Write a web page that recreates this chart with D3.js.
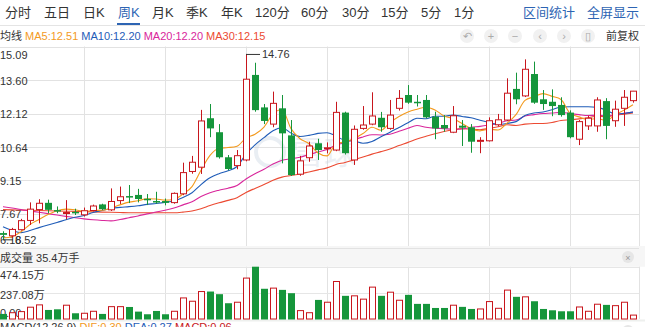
<!DOCTYPE html>
<html><head><meta charset="utf-8">
<script src="https://cdn.jsdelivr.net/npm/d3@7"></script>
<style>
body{margin:0;background:#fff;overflow:hidden}
svg{display:block;font-family:"Liberation Sans",Arial,"Noto Sans CJK SC",sans-serif}
</style></head><body>
<svg id="c" width="645" height="327"></svg>
<script>
const opens=[6.82,6.70,6.97,7.38,7.86,8.16,7.84,7.71,7.76,7.63,7.82,8.09,7.85,8.26,8.46,8.51,8.34,8.24,8.24,8.17,8.56,9.55,9.74,11.91,11.29,10.18,9.81,10.06,13.83,12.39,11.65,12.35,11.15,9.43,10.16,10.80,10.56,10.50,12.16,10.06,11.46,11.65,11.93,11.46,12.35,12.94,12.64,12.72,11.98,11.61,11.29,11.58,11.51,10.89,10.91,11.62,11.83,13.21,12.90,13.87,12.75,12.64,12.50,12.16,10.98,11.57,11.57,12.67,11.80,12.35,12.69];
const highs=[6.90,7.05,7.45,8.18,8.32,8.30,8.00,8.28,7.90,7.95,8.08,8.12,8.80,8.88,8.95,8.78,8.55,8.65,8.35,8.62,9.94,10.24,12.28,12.54,11.65,10.28,10.50,14.76,14.37,12.54,13.09,12.94,11.83,10.24,10.87,11.00,10.84,12.64,12.20,11.59,12.45,13.06,12.19,12.72,13.16,13.38,12.94,12.94,12.20,12.05,12.45,11.83,11.65,11.07,11.95,12.10,13.68,13.93,14.52,14.42,13.16,13.19,12.84,12.26,11.83,12.02,12.84,12.80,12.69,13.16,13.12];
const lows=[6.52,6.60,6.93,7.18,7.25,7.70,7.70,7.43,7.62,7.55,7.78,7.84,7.80,8.11,8.15,8.18,8.06,8.12,8.05,8.12,8.50,9.45,9.44,11.07,10.12,9.60,9.65,10.00,12.20,11.65,11.51,9.91,9.35,9.36,9.98,10.06,10.35,10.45,10.30,9.84,11.40,11.60,11.31,11.40,12.25,12.55,12.43,11.90,10.98,11.31,11.25,10.68,10.38,10.36,10.88,11.55,11.78,12.53,12.85,12.55,12.28,12.00,11.98,11.02,10.72,11.39,11.31,10.98,11.53,11.57,12.60];
const closes=[6.74,6.98,7.37,7.88,8.14,7.85,7.80,7.73,7.72,7.81,8.02,7.88,8.22,8.43,8.40,8.33,8.31,8.19,8.16,8.58,9.50,9.96,11.79,11.46,10.18,9.66,10.25,13.64,12.27,11.79,12.57,11.24,9.39,10.02,10.68,10.50,10.60,12.17,10.36,11.42,11.61,12.01,11.51,12.05,12.79,12.60,12.60,11.95,11.46,11.46,12.02,11.49,10.87,10.93,11.80,11.84,13.02,12.75,14.08,12.60,12.54,12.45,12.05,11.07,11.76,11.91,12.72,11.57,12.31,12.84,13.11];
const volumes=[46,57,67,107,128,82,88,125,52,52,70,46,112,112,109,67,43,73,43,70,191,161,249,249,225,143,152,371,474.15,274,280,264,234,76,57,173,152,340,210,210,180,289,210,243,170,219,137,137,100,100,125,110,91,91,158,97,262,201,201,161,91,79,70,70,109,70,134,128,121,152,35.4];
const ma5=[6.60,6.66,6.88,7.20,7.42,7.64,7.81,7.88,7.85,7.78,7.82,7.83,7.93,8.07,8.19,8.25,8.34,8.33,8.28,8.31,8.55,8.88,9.60,10.26,10.58,10.61,10.67,11.04,11.20,11.52,12.10,12.30,11.45,11.00,10.78,10.37,10.24,10.79,10.86,11.01,11.23,11.51,11.38,11.72,11.99,12.19,12.31,12.40,12.28,12.01,11.90,11.68,11.46,11.35,11.42,11.39,11.69,12.07,12.70,12.86,13.00,12.88,12.74,12.14,11.97,11.85,11.90,11.81,12.05,12.27,12.51];
const ma10=[7.10,6.94,6.84,6.93,7.06,7.18,7.29,7.41,7.52,7.60,7.73,7.82,7.91,7.96,7.99,8.03,8.09,8.13,8.18,8.25,8.40,8.61,8.97,9.27,9.45,9.58,9.77,10.32,10.73,11.05,11.36,11.49,11.25,11.10,11.15,11.24,11.27,11.12,10.93,10.90,10.80,10.88,11.09,11.29,11.50,11.71,11.91,11.89,12.00,12.00,12.05,11.99,11.93,11.82,11.72,11.64,11.68,11.76,12.03,12.14,12.19,12.29,12.41,12.42,12.42,12.42,12.39,12.28,12.10,12.12,12.18];
const ma20=[7.99,7.93,7.86,7.80,7.74,7.68,7.62,7.56,7.50,7.45,7.41,7.38,7.36,7.42,7.50,7.58,7.67,7.75,7.83,7.93,8.07,8.21,8.44,8.61,8.72,8.81,8.93,9.22,9.45,9.65,9.88,10.05,10.11,10.18,10.30,10.41,10.52,10.72,10.83,10.97,11.08,11.18,11.17,11.20,11.33,11.47,11.59,11.51,11.47,11.45,11.42,11.43,11.51,11.55,11.61,11.68,11.80,11.83,12.01,12.07,12.12,12.14,12.17,12.12,12.07,12.03,12.04,12.02,12.06,12.13,12.19];
const ma30=[7.86,7.85,7.84,7.83,7.82,7.81,7.80,7.79,7.78,7.77,7.76,7.75,7.74,7.73,7.72,7.72,7.72,7.72,7.72,7.72,7.75,7.80,7.90,8.04,8.16,8.27,8.39,8.62,8.80,8.97,9.16,9.30,9.37,9.44,9.53,9.62,9.71,9.86,9.95,10.07,10.19,10.32,10.43,10.55,10.70,10.84,10.99,11.11,11.22,11.32,11.40,11.45,11.42,11.40,11.46,11.53,11.62,11.59,11.65,11.68,11.68,11.72,11.81,11.84,11.88,11.93,12.00,11.98,12.04,12.09,12.14];
const priceTicks=[15.09,13.60,12.12,10.64,9.15,7.67,6.18];
const volTicks=[474.15,237.08,0];
const volTickLabels=["474.15万","237.08万","0.00"];
const tabs=["分时","五日","日K","周K","月K","季K","年K","120分","60分","30分","15分","5分","1分"];
const activeTab="周K";
const rightLinks=["区间统计","全屏显示"];
const maNames=["MA5","MA10","MA20","MA30"];
const maLast=["12.51","12.20","12.20","12.15"];
const maxLabel="14.76", minLabel="6.52";
const volTitle="成交量 35.4万手";
const macdItems=["MACD(12,26,9)","DIF:0.30","DEA:0.27","MACD:0.06"];

const svg=d3.select("#c");
const RED="#c8161d", GREEN="#15963b";
const maColors=["#f39a1e","#1f5cb8","#d9269b","#ec4a32"];
const n=closes.length;
const x=d3.scaleLinear().domain([0,n-1]).range([3,633]);
const y=d3.scaleLinear().domain([6.18,15.09]).range([247.5,46.5]);
const yv=d3.scaleLinear().domain([0,474.15]).range([319,266.7]);
const bw=7;

// tabs
const tabX=[5,44,83,118,152,186,221,255,301,342,381,421,454];
svg.selectAll("text.tab").data(tabs).join("text").attr("class","tab")
  .attr("x",(d,i)=>tabX[i]).attr("y",17).attr("font-size",13)
  .attr("fill",d=>d===activeTab?"#2d64b3":"#333").text(d=>d);
svg.append("line").attr("x1",0).attr("x2",645).attr("y1",25.5).attr("y2",25.5).attr("stroke","#e4e4e4");
svg.append("rect").attr("x",117).attr("y",23).attr("width",23).attr("height",2).attr("fill","#2d64b3");
svg.selectAll("text.rl").data(rightLinks).join("text").attr("class","rl")
  .attr("x",(d,i)=>[523,587][i]).attr("y",17).attr("font-size",13).attr("fill","#2d64b3").text(d=>d);

// legend row
const leg=svg.append("text").attr("x",0).attr("y",40).attr("font-size",11);
leg.append("tspan").attr("fill","#333").text("均线 ");
maNames.forEach((m,i)=>{leg.append("tspan").attr("fill",maColors[i]).text(m+":"+maLast[i]+(i<3?"  ":""));});
const icons=["\u21B6","+","\u2212","\u2039","\u203A","\u25AF"];
const iconX=[467,491,515,540,564,588];
svg.selectAll("circle.ic").data(icons).join("circle").attr("class","ic")
  .attr("cx",(d,i)=>iconX[i]).attr("cy",36).attr("r",7).attr("fill","#f1f1f1");
svg.selectAll("text.ic").data(icons).join("text").attr("class","ic")
  .attr("x",(d,i)=>iconX[i]).attr("y",40).attr("text-anchor","middle").attr("font-size",11).attr("fill","#aaa").text(d=>d);
svg.append("text").attr("x",606).attr("y",40).attr("font-size",11).attr("fill","#333").text("前复权");

// price grid
svg.append("rect").attr("x",0).attr("y",246).attr("width",645).attr("height",20.7).attr("fill","#f6f6f6");
svg.selectAll("line.hg").data(priceTicks).join("line").attr("class","hg")
  .attr("x1",0).attr("x2",639).attr("y1",d=>Math.round(y(d))+0.5).attr("y2",d=>Math.round(y(d))+0.5)
  .attr("stroke","#e2e2e2");
const vIdx=[9,18,27,36,45,54,63];
svg.selectAll("line.vg").data(vIdx).join("line").attr("class","vg")
  .attr("x1",d=>Math.round(x(d))+0.5).attr("x2",d=>Math.round(x(d))+0.5).attr("y1",46.5).attr("y2",246)
  .attr("stroke","#e2e2e2");
svg.selectAll("line.vg2").data(vIdx).join("line").attr("class","vg2")
  .attr("x1",d=>Math.round(x(d))+0.5).attr("x2",d=>Math.round(x(d))+0.5).attr("y1",266.7).attr("y2",319)
  .attr("stroke","#e2e2e2");
svg.append("line").attr("x1",639.5).attr("x2",639.5).attr("y1",46.5).attr("y2",246).attr("stroke","#e2e2e2");
svg.append("line").attr("x1",639.5).attr("x2",639.5).attr("y1",266.7).attr("y2",319).attr("stroke","#e2e2e2");

// watermark
const wm=svg.append("g").attr("opacity",0.35);
wm.append("circle").attr("cx",270).attr("cy",152).attr("r",14).attr("fill","none").attr("stroke","#c3cfdd").attr("stroke-width",4);
wm.append("text").attr("x",292).attr("y",164).attr("font-size",32).attr("fill","#c9d4e1").attr("font-family","Noto Sans CJK SC").text("雪球");

// price labels
const labY=[55,81,114,148,181,214,240];
svg.selectAll("text.pl").data(priceTicks).join("text").attr("class","pl")
  .attr("x",0).attr("y",(d,i)=>labY[i]+4).attr("font-size",11).attr("fill","#333").text(d=>d.toFixed(2));

// MA lines
const mas=[ma5,ma10,ma20,ma30];
const line=d3.line().x((d,i)=>x(i)).y(d=>y(d)).curve(d3.curveMonotoneX);
mas.slice().reverse().forEach((m,k)=>{
  const i=3-k;
  svg.append("path").attr("d",line(m)).attr("fill","none").attr("stroke",maColors[i]).attr("stroke-width",1.1);
});

// candles
const idx=d3.range(n);
const up=i=>closes[i]>=opens[i];
const cg=svg.append("g");
idx.forEach(i=>{
  const cx=Math.round(x(i))+0.5;
  const top=y(Math.max(opens[i],closes[i])), bot=y(Math.min(opens[i],closes[i]));
  const col=up(i)?RED:GREEN;
  if(up(i)){
    cg.append("line").attr("x1",cx).attr("x2",cx).attr("y1",y(highs[i])).attr("y2",top).attr("stroke",col);
    cg.append("line").attr("x1",cx).attr("x2",cx).attr("y1",bot).attr("y2",y(lows[i])).attr("stroke",col);
    cg.append("rect").attr("x",cx-3).attr("y",top).attr("width",bw-1).attr("height",Math.max(bot-top,1))
      .attr("fill","#fff").attr("stroke",col);
  } else {
    cg.append("line").attr("x1",cx).attr("x2",cx).attr("y1",y(highs[i])).attr("y2",y(lows[i])).attr("stroke",col);
    cg.append("rect").attr("x",cx-3.5).attr("y",top).attr("width",bw).attr("height",Math.max(bot-top,1.5)).attr("fill",col);
  }
});

// max/min markers
const iMax=d3.maxIndex(highs), iMin=d3.minIndex(lows);
svg.append("line").attr("x1",x(iMax)).attr("x2",x(iMax)+14).attr("y1",y(highs[iMax])+0.5).attr("y2",y(highs[iMax])+0.5).attr("stroke","#333");
svg.append("text").attr("x",x(iMax)+16).attr("y",y(highs[iMax])+4).attr("font-size",11).attr("fill","#333").text(maxLabel);
svg.append("line").attr("x1",x(iMin)).attr("x2",x(iMin)+10).attr("y1",y(lows[iMin])).attr("y2",y(lows[iMin])).attr("stroke","#333");
svg.append("text").attr("x",x(iMin)+12).attr("y",y(lows[iMin])+4).attr("font-size",11).attr("fill","#333").text(minLabel);

// volume panel
svg.append("text").attr("x",0).attr("y",262).attr("font-size",11).attr("fill","#333").text(volTitle);
svg.append("circle").attr("cx",628).attr("cy",257).attr("r",6).attr("fill","#e6e6e6");
svg.append("text").attr("x",628).attr("y",260.5).attr("text-anchor","middle").attr("font-size",9).attr("fill","#999").text("×");
svg.selectAll("line.vh").data(volTicks.slice(0,2)).join("line").attr("class","vh")
  .attr("x1",0).attr("x2",639).attr("y1",d=>Math.round(yv(d))+0.5).attr("y2",d=>Math.round(yv(d))+0.5).attr("stroke","#e6e6e6");
svg.append("rect").attr("x",0).attr("y",319.5).attr("width",645).attr("height",2).attr("fill","#eef0ee");
const vLabY=[275,295,313];
svg.selectAll("text.vl").data(volTickLabels).join("text").attr("class","vl")
  .attr("x",0).attr("y",(d,i)=>vLabY[i]+4).attr("font-size",11).attr("fill","#333").text(d=>d);
const vg=svg.append("g");
idx.forEach(i=>{
  const cx=Math.round(x(i))+0.5;
  const col=up(i)?RED:GREEN;
  const t=yv(volumes[i]);
  if(up(i)) vg.append("rect").attr("x",cx-3).attr("y",t).attr("width",bw-1).attr("height",yv(0)-t).attr("fill","#fff").attr("stroke",col);
  else vg.append("rect").attr("x",cx-3.5).attr("y",t).attr("width",bw).attr("height",yv(0)-t+0.5).attr("fill",col);
});

// next indicator header (cut off at the bottom edge)
const mc=svg.append("text").attr("x",0).attr("y",331).attr("font-size",11);
const mcCols=["#333",maColors[0],maColors[1],RED];
macdItems.forEach((t,i)=>mc.append("tspan").attr("fill",mcCols[i]).text(t+"  "));
svg.append("circle").attr("cx",628).attr("cy",331).attr("r",6).attr("fill","#e6e6e6");
</script></body></html>
